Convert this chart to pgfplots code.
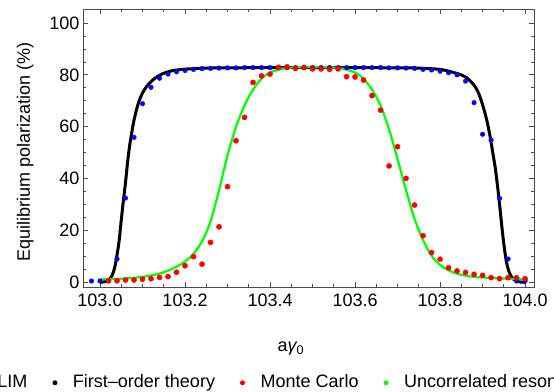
\documentclass[border=0pt]{standalone}
\usepackage{fontspec}
\setmainfont{Liberation Sans}
\usepackage{pgfplots}
\pgfplotsset{compat=1.18}

\definecolor{slimblue}{rgb}{0,0,1}
\definecolor{mcred}{rgb}{1,0,0}
\definecolor{uncgreen}{rgb}{0,1,0}
\colorlet{framegray}{black!70}

% legend marker: a dot raised to mid x-height, followed by the gap before the text
\newcommand{\legdot}[1]{\fill[#1, draw=none] (0bp,5bp) circle (2.5bp);
  \path[draw=none, fill=none] (-2.5bp,0bp) rectangle (18bp,0.1bp);}

\begin{document}
\begin{tikzpicture}
\begin{axis}[
  scale only axis, width=451bp, height=278bp,
  xmin=102.96, xmax=104.021, ymin=-1.8, ymax=105.4,
  font=\fontsize{18bp}{21bp}\selectfont,
  axis line style={framegray, line width=0.8bp},
  tick style={framegray, line width=0.8bp},
  tick align=inside,
  major tick length=5bp, minor tick length=3bp,
  xtick={103,103.2,103.4,103.6,103.8,104},
  ytick={0,20,40,60,80,100},
  minor tick num=3,
  scaled x ticks=false,
  xticklabel style={/pgf/number format/fixed, /pgf/number format/fixed zerofill,
    /pgf/number format/precision=1, /pgf/number format/assume math mode=true, yshift=-3bp},
  yticklabel style={/pgf/number format/assume math mode=true},
  xlabel={a{\itshape γ}\textsubscript{0}},
  xlabel style={at={(axis description cs:0.461,-0.22)}, anchor=center},
  ylabel={Equilibrium polarization (\%)},
  ylabel style={at={(axis description cs:-0.128,0.484)}, anchor=center},
  legend columns=4,
  legend style={at={(axis description cs:-0.2617,-0.3417)}, anchor=west,
    draw=none, fill=none, inner sep=0pt, outer sep=0pt, column sep=0pt,
    cells={anchor=base west}, nodes={inner sep=0pt, outer sep=0pt},
    /tikz/every even column/.append style={column sep=25bp},
    /tikz/column 2/.append style={column sep=16bp}},
]
% SLIM
\addplot[only marks, mark=*, mark size=2.3bp, color=slimblue, mark options={draw=none, fill=slimblue},
  legend image code/.code={\legdot{slimblue}}]
  coordinates {
  (102.98,0.5)(103.00,0.5)(103.02,0.6)(103.04,9.0)(103.06,32.5)(103.08,55.9)
  (103.10,68.9)(103.12,75.2)(103.14,78.7)(103.16,80.3)(103.18,81.2)(103.20,81.7)
  (103.22,82.1)(103.24,82.4)(103.26,82.5)(103.28,82.6)(103.30,82.7)(103.32,82.7)
  (103.34,82.8)(103.36,82.8)(103.38,82.8)(103.40,82.8)(103.42,82.8)(103.44,82.8)
  (103.46,82.8)(103.48,82.8)(103.50,82.8)(103.52,82.8)(103.54,82.8)(103.56,82.8)
  (103.58,82.8)(103.60,82.8)(103.62,82.8)(103.64,82.8)(103.66,82.8)(103.68,82.7)
  (103.70,82.7)(103.72,82.6)(103.74,82.5)(103.76,82.1)(103.78,81.9)(103.80,81.4)
  (103.82,80.8)(103.84,80.0)(103.86,77.6)(103.88,69.3)(103.90,57.1)(103.92,54.9)
  (103.94,32.4)(103.96,9.0)(103.98,0.5)(104.00,0.5)
  };
\addlegendentry{SLIM}
% first-order theory
\addplot[black, line width=3bp, smooth, line join=round,
  legend image code/.code={\legdot{black}}]
  coordinates {
  (103.000,0.0)(103.010,0.2)(103.020,0.8)(103.028,2.5)(103.035,6)(103.040,10.5)
  (103.045,16)(103.050,24)(103.055,31.5)(103.060,38.5)(103.065,46.5)(103.070,53)
  (103.075,58)(103.080,62.5)(103.090,69)(103.100,73)(103.110,75.6)(103.120,77.4)
  (103.130,78.8)(103.140,79.8)(103.150,80.6)(103.170,81.6)(103.200,82.2)(103.250,82.6)
  (103.300,82.7)(103.400,82.8)(103.500,82.8)(103.600,82.8)(103.700,82.7)(103.750,82.6)
  (103.800,82.1)(103.830,81.0)(103.850,80.0)(103.865,78.6)(103.880,76.0)(103.890,73.2)
  (103.900,68.5)(103.910,62.5)(103.918,56)(103.924,50)(103.930,44)(103.936,36)
  (103.941,28.5)(103.946,20.5)(103.951,13.5)(103.956,8)(103.962,4.2)(103.970,1.6)
  (103.980,0.5)(103.990,0.1)(104.000,0.0)
  };
\addlegendentry{First–order theory}
% Monte Carlo
\addplot[only marks, mark=*, mark size=2.6bp, color=mcred, mark options={draw=none, fill=mcred},
  legend image code/.code={\legdot{mcred}}]
  coordinates {
  (103.02,0.6)(103.04,0.6)(103.06,0.9)(103.08,0.9)(103.10,1.2)(103.12,1.4)
  (103.14,1.9)(103.16,2.2)(103.18,3.9)(103.20,6.4)(103.22,9.9)(103.24,7.0)
  (103.26,15.4)(103.28,21.4)(103.30,36.9)(103.32,54.6)(103.34,63.6)(103.36,77.1)
  (103.38,79.6)(103.40,80.3)(103.42,82.9)(103.44,83.1)(103.46,82.5)(103.48,82.9)
  (103.50,82.3)(103.52,82.3)(103.54,82.1)(103.56,82.3)(103.58,79.3)(103.60,79.2)
  (103.62,78.0)(103.64,72.0)(103.66,66.4)(103.68,44.9)(103.70,52.3)(103.72,40.1)
  (103.74,29.8)(103.76,18.0)(103.78,11.5)(103.80,8.9)(103.82,5.6)(103.84,4.4)
  (103.86,3.8)(103.88,3.1)(103.90,2.7)(103.92,1.8)(103.94,1.4)(103.96,1.8)
  (103.98,1.8)(104.00,1.4)
  };
\addlegendentry{Monte Carlo}
% uncorrelated resonances
\addplot[uncgreen, line width=2.2bp, smooth, line join=round,
  legend image code/.code={\legdot{uncgreen}}]
  coordinates {
  (103.00,1.2)(103.05,1.4)(103.10,2.1)(103.14,3.4)(103.17,5.2)(103.20,8.0)
  (103.22,11.0)(103.24,15.8)(103.26,23.5)(103.28,35.5)(103.30,49)(103.32,60)
  (103.34,68.2)(103.36,74.3)(103.38,78.5)(103.40,80.9)(103.43,82.4)(103.46,82.9)
  (103.50,83.0)(103.54,82.9)(103.57,82.4)(103.60,80.9)(103.62,78.5)(103.64,74.3)
  (103.66,68.2)(103.68,59)(103.70,47.5)(103.72,35.5)(103.74,24.5)(103.76,16.3)
  (103.78,10.3)(103.80,6.7)(103.83,3.9)(103.87,2.3)(103.92,1.7)(103.96,1.4)
  (104.00,1.2)
  };
\addlegendentry{Uncorrelated resonances}
\end{axis}
\pgfresetboundingbox
\useasboundingbox (-83bp,-105bp) rectangle (471bp,287bp);
\end{tikzpicture}
\end{document}
